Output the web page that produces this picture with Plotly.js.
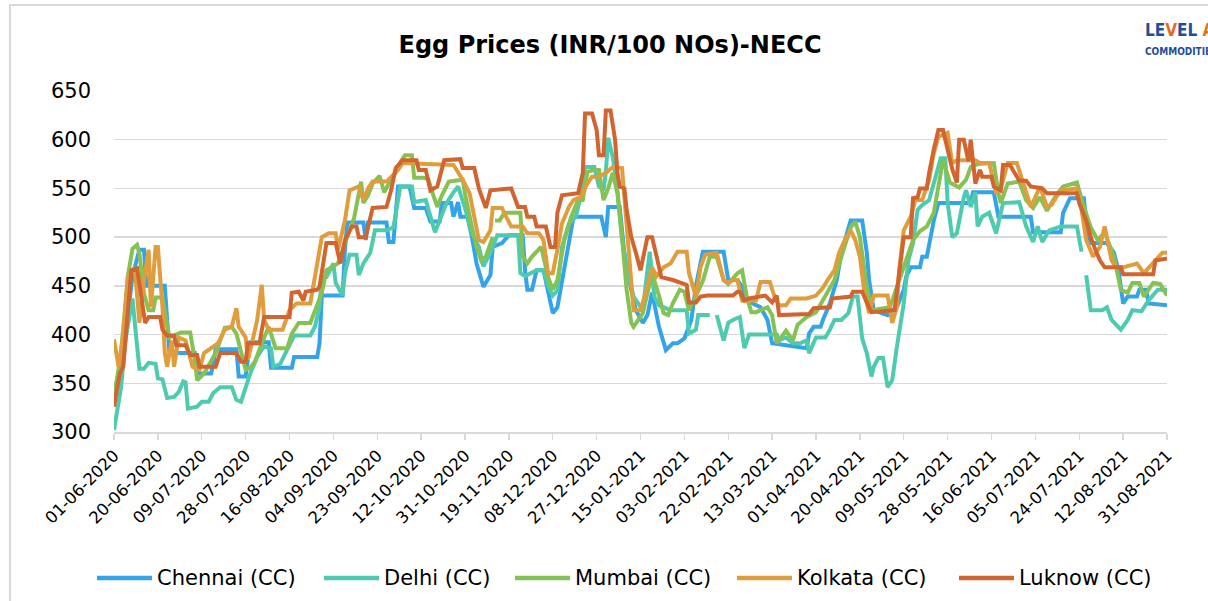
<!DOCTYPE html>
<html>
<head>
<meta charset="utf-8">
<script src="https://cdn.plot.ly/plotly-3.0.1.min.js"></script>
<style>
  html, body { margin: 0; padding: 0; background: #fff; overflow: hidden; }
  #frame { position: absolute; left: 9px; top: 4px; width: 1300px; height: 700px; border: 2px solid #d9d9d9; box-sizing: border-box; pointer-events: none; z-index: 5; }
  #chart { position: absolute; left: 0; top: 0; width: 1208px; height: 601px; }
</style>
</head>
<body>
<div id="chart"></div>
<div id="frame"></div>
<script>
// Day index counted from 01-06-2020 (category axis of daily prices)
const tickLabels = ["01-06-2020","20-06-2020","09-07-2020","28-07-2020","16-08-2020","04-09-2020","23-09-2020","12-10-2020","31-10-2020","19-11-2020","08-12-2020","27-12-2020","15-01-2021","03-02-2021","22-02-2021","13-03-2021","01-04-2021","20-04-2021","09-05-2021","28-05-2021","16-06-2021","05-07-2021","24-07-2021","12-08-2021","31-08-2021"];
const tickDays = [0,19,38,57,76,95,114,133,152,171,190,209,228,247,266,285,304,323,342,361,380,399,418,437,456];

const chennaiDays = [0,4,8,11,13,14,22,23,24,35,36,42,43,44,53,54,57,58,59,67,68,77,78,88,89,90,99,100,101,108,109,110,118,119,121,123,128,130,135,137,141,142,146,147,149,150,153,155,157,160,163,164,168,171,177,178,179,181,183,186,188,190,192,194,197,199,211,213,214,219,220,221,224,226,229,231,233,236,239,242,244,247,250,252,255,264,266,270,272,274,280,283,285,300,301,303,306,307,310,313,315,317,319,324,326,327,329,335,337,339,342,343,345,349,350,352,354,355,357,371,372,381,383,397,398,410,411,414,420,421,422,430,433,435,437,439,443,444,447,448,456];
const chennaiValues = [340,380,460,487,487,450,450,408,381,381,360,360,369,385,385,357,357,375,392,392,366,366,377,377,391,440,440,487,515,515,497,515,515,495,495,552,552,530,530,516,516,535,535,521,536,521,521,500,473,449,461,490,494,502,502,466,446,446,466,466,443,422,428,456,497,521,521,500,531,531,507,484,446,425,412,420,443,408,384,391,391,396,415,450,485,485,456,456,449,435,428,415,391,386,401,408,408,415,432,456,484,500,517,517,484,456,425,420,425,428,446,459,469,469,480,480,507,517,535,535,546,546,521,521,505,505,525,540,540,520,494,494,484,466,432,439,439,446,446,432,430];

const delhiDays = [0,3,5,8,9.5,11,13,15,18,19,21,23,26,28,30,31,32,34,36,38,41,43,46,51,53,55,57,59,62,65,68,69,72,75,78,85,87,89,90,92,95,96,99,100,102,105,106,108,111,113,118,121,122,124,129,130,135,137,139,141,144,147,149,152,155,158,160,163,166,175,176,178,183,186,188,190,192,194,197,200,202,204,208,210,212,213,214,216,218,220,222,225,229,231,232,234,236,241,248,249,252,253,258,259,261,264,266,268,271,273,275,287,288,291,294,297,300,301,304,308,310,312,315,318,320,322,324,326,328,329,331,333,335,337,339,342,344,346,348,350,353,356,358,360,361,363,365,368,369,371,373,374,376,379,382,385,392,395,398,400,402,405,410,417,419,420,421,423,428,430,432,436,439,441,445,448,452,456];
const delhiValues = [302,345,395,437,400,365,365,371,370,355,354,335,336,341,352,351,324,325,326,331,331,340,346,346,333,331,345,360,377,388,386,367,370,384,399,399,408,428,459,459,473,453,440,463,482,482,461,473,484,507,507,510,523,552,552,536,538,521,505,517,535,546,552,530,504,490,470,484,502,502,463,460,466,466,450,440,445,490,514,521,541,572,572,552,548,567,602,582,548,497,470,439,425,466,485,439,430,425,425,401,405,420,420,null,420,394,412,415,418,386,400,400,394,397,391,391,394,381,397,397,405,415,415,422,439,439,396,381,357,367,376,376,346,353,387,432,476,494,528,533,538,566,581,581,535,500,504,541,548,531,546,511,521,525,504,535,536,511,495,511,495,507,511,511,485,null,461,425,425,428,415,405,415,425,424,435,446,446];

const mumbaiDays = [0,3,6,8,10,11,13,15,17,18,21,24,29,33,35,36,39,44,48,51,53,57,59,61,64,67,70,75,77,80,85,86,88,90,92,97,99,101,104,107,108,110,112,115,117,119,121,124,126,129,130,134,136,138,140,142,145,151,152,155,157,159,161,164,164.5,165,167,169,176,177,179,181,185,188,190,192,195,198,201,203,205,208,210,212,214,216,218,220,222,224,225,229,231,233,236,238,240,242,245,247,249,252,255,258,261,264,266,270,272,274,276,278,283,285,287,291,294,296,300,304,307,312,315,319,321,323,326,328,336,340,343,346,349,352,355,357,359,362,366,369,371,374,378,381,383,384,387,392,395,398,401,404,408,411,417,420,423,426,429,433,436,439,441,444,446,450,453,456];
const mumbaiValues = [335,380,460,488,492,483,442,425,425,438,438,397,402,402,374,353,360,381,407,408,401,364,366,372,391,408,386,386,401,412,412,418,432,443,466,473,487,500,520,557,535,543,555,563,546,555,562,577,584,584,561,561,560,545,531,543,557,559,545,510,490,476,480,500,null,517,517,525,525,480,473,480,490,459,446,456,497,521,538,538,567,569,569,538,550,566,545,500,446,412,408,422,445,463,440,422,420,432,446,444,425,439,455,480,480,456,452,463,466,439,423,423,428,420,391,404,394,410,418,423,435,456,480,510,516,500,449,425,428,456,476,497,506,511,525,552,579,556,551,559,572,575,576,576,545,535,555,557,538,530,541,527,543,552,556,531,510,497,505,480,446,443,453,453,439,453,452,440];

const kolkataDays = [0,2,4,6,9,11,13,15,16,18,19,21,22,23,25,26,28,31,34,37,39,42,45,48,51,53,54,57,58,60,62,64,65,67,73,76,79,85,88,90,93,96,97,100,102,106,108,110,112,118,123,125,147,151,154,156,158,160,163,164,168,170,172,177,179,184,186,188,190,192,194,197,199,202,205,207,210,213,216,220,222,224,225,228,231,233,235,238,241,244,248,249,252,254,256,261,264,266,268,270,272,278,280,284,286,288,291,293,300,304,307,309,312,314,317,319,321,323,325,327,329,335,337,339,340,342,345,347,350,353,355,357,361,363,365,373,375,379,382,384,387,391,394,397,399,401,404,406,408,410,417,419,421,424,427,429,432,434,437,443,446,451,454,456];
const kolkataValues = [395,367,400,459,469,412,456,487,428,490,490,428,381,367,394,367,397,394,367,364,381,386,391,405,408,427,408,397,374,394,415,451,415,405,405,425,432,432,476,500,504,504,487,517,548,552,538,550,557,557,569,576,574,559,545,521,497,495,507,530,530,520,511,511,504,504,497,463,463,487,514,531,538,541,555,562,562,566,572,571,517,456,425,425,449,469,460,469,473,485,485,463,439,469,482,484,456,453,456,456,435,435,454,454,439,430,430,437,437,440,448,456,466,484,500,507,497,480,443,422,440,440,412,428,466,507,521,538,538,559,586,603,607,576,579,579,576,576,545,550,576,576,552,531,541,552,531,533,541,548,550,528,497,480,490,511,476,469,469,473,463,476,484,484];

const luknowDays = [0,2.5,4,6,7.5,10,12,13.5,15,20,21,23,26,27,31,33,36,37,44,46,53,55,57,58,63,65,76,77,80,82,83,88,89,90,92,96,98,100,103,105,106,109,112,118,120,122,125,131,132,135,137,140,143,150,151,156,158,161,163,172,175,178,179,182,183,187,188,189,191,192,194,201,203,204,207,209,210,212,213,215,217,218,219,221,222,224,226,228,231,233,235,237,242,245,248,249,252,254,257,268,270,271,273,275,282,285,287,288,301,303,310,311,319,320,324,326,328,338,340,342,345,346,348,349,352,353,355,357,359,361,363,365,366,368,370,371,373,375,376,380,381,384,385,388,390,392,395,397,402,404,417,418,421,423,425,427,429,436,437,450,451,456];
const luknowValues = [326,360,367,428,466,468,435,412,418,418,405,399,399,389,389,379,379,367,367,381,381,372,372,391,391,418,418,443,444,435,444,446,449,466,494,494,473,497,511,511,500,500,530,531,548,571,579,579,569,569,548,552,579,580,571,571,550,530,548,550,531,531,521,521,511,511,500,490,490,525,543,545,566,627,627,610,584,584,630,630,600,566,552,550,528,500,484,466,500,500,480,459,456,453,451,433,433,439,440,440,444,444,435,437,440,433,440,420,421,427,428,437,439,444,444,433,423,425,466,500,500,540,541,550,550,566,590,610,610,590,570,556,600,600,578,600,555,569,562,562,552,548,574,574,565,558,558,552,550,545,545,535,517,500,487,476,469,469,462,462,476,478];

const seriesNames = ["Chennai (CC)","Delhi (CC)","Mumbai (CC)","Kolkata (CC)","Luknow (CC)"];
const seriesColors = ["#33A3EA","#4ECBAF","#86C253","#E09D3D","#D2642F"];
const seriesDays = [chennaiDays, delhiDays, mumbaiDays, kolkataDays, luknowDays];
const seriesValues = [chennaiValues, delhiValues, mumbaiValues, kolkataValues, luknowValues];

const FONT = "DejaVu Sans, sans-serif";

// ---- layout geometry (pixels) ----
const W = 1208, H = 601;
const M = { l: 114, r: 41, t: 91, b: 169 };
const plotW = W - M.l - M.r, plotH = H - M.t - M.b;
const px2x = px => (px - M.l) / plotW;
const py2y = py => (H - M.b - py) / plotH;
const legendLineStart = [97, 324, 515, 737, 959];
const legendLineLen = 55;
const legendY = 578;

const traces = seriesNames.map((n, i) => ({
  type: "scatter",
  mode: "lines",
  name: n,
  x: seriesDays[i],
  y: seriesValues[i],
  connectgaps: false,
  line: { color: seriesColors[i], width: 4, shape: "linear" },
  hoverinfo: "skip"
}));

const legendShapes = seriesNames.map((n, i) => ({
  type: "line", xref: "paper", yref: "paper",
  x0: px2x(legendLineStart[i]), x1: px2x(legendLineStart[i] + legendLineLen),
  y0: py2y(legendY), y1: py2y(legendY),
  line: { color: seriesColors[i], width: 4.5 }
}));
const legendTexts = seriesNames.map((n, i) => ({
  xref: "paper", yref: "paper",
  x: px2x(legendLineStart[i] + legendLineLen + 3), y: py2y(legendY),
  xanchor: "left", yanchor: "middle", showarrow: false,
  text: n, font: { family: FONT, size: 21, color: "#000" }
}));

const layout = {
  width: W,
  height: H,
  paper_bgcolor: "rgba(0,0,0,0)",
  plot_bgcolor: "rgba(0,0,0,0)",
  margin: M,
  font: { family: FONT, color: "#000" },
  title: {
    text: "<b>Egg Prices (INR/100 NOs)-NECC</b>",
    font: { family: FONT, size: 24, color: "#000" },
    x: 0.505, xanchor: "center",
    y: 0.925, yanchor: "middle"
  },
  xaxis: {
    range: [0, 456],
    tickmode: "array",
    tickvals: tickDays,
    ticktext: tickLabels,
    tickangle: -45,
    tickfont: { family: FONT, size: 16.5, color: "#000" },
    ticks: "outside",
    ticklen: 6,
    tickwidth: 1.3,
    tickcolor: "#d9d9d9",
    showline: true,
    linecolor: "#d9d9d9",
    linewidth: 1.5,
    showgrid: false,
    zeroline: false,
    fixedrange: true
  },
  yaxis: {
    range: [300, 650],
    tickmode: "linear",
    tick0: 300,
    dtick: 50,
    tickfont: { family: FONT, size: 21, color: "#000" },
    ticks: "",
    ticklabelstandoff: 22,
    showgrid: true,
    gridcolor: "#d9d9d9",
    gridwidth: 1.3,
    showline: false,
    zeroline: false,
    fixedrange: true
  },
  showlegend: false,
  shapes: legendShapes,
  annotations: legendTexts.concat([
    {
      xref: "paper", yref: "paper", x: 0.977, y: 1.18, xanchor: "left", yanchor: "middle",
      showarrow: false,
      text: "<b><span style='color:#1F4E9C'>LE</span><span style='color:#E07020'>V</span><span style='color:#1F4E9C'>EL </span><span style='color:#E07020'>A</span></b>",
      font: { family: "DejaVu Sans Condensed, DejaVu Sans", size: 17 }
    },
    {
      xref: "paper", yref: "paper", x: 0.977, y: 1.115, xanchor: "left", yanchor: "middle",
      showarrow: false,
      text: "<b>COMMODITIES</b>",
      font: { family: "DejaVu Sans Condensed, DejaVu Sans", size: 10, color: "#1F4E9C" }
    }
  ])
};

Plotly.newPlot("chart", traces, layout, { displayModeBar: false, staticPlot: true });
</script>
</body>
</html>
